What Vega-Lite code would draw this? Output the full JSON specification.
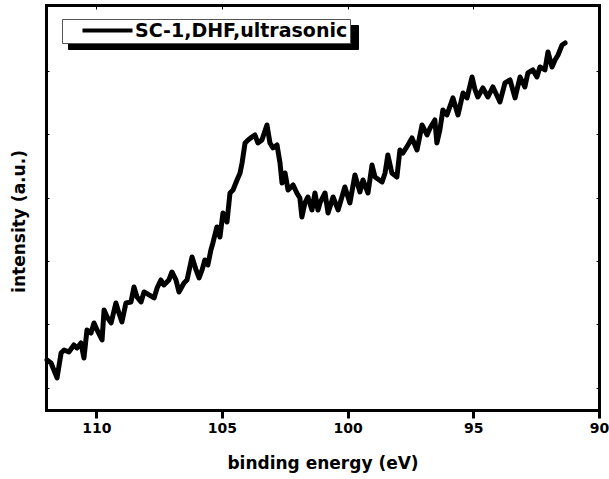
{
  "$schema": "https://vega.github.io/schema/vega-lite/v6.json",
  "width": 553,
  "height": 405,
  "autosize": {"type": "none"},
  "padding": {"left": 46, "top": 5, "right": 10, "bottom": 69},
  "background": "white",
  "config": {"font": "DejaVu Sans", "view": {"stroke": null}},
  "data": {"values": [
    {"e":111.96,"i":1441},{"e":111.80,"i":1394},{"e":111.56,"i":1158},{"e":111.40,"i":1551},{"e":111.28,"i":1599},
    {"e":111.09,"i":1567},{"e":110.89,"i":1677},{"e":110.77,"i":1630},{"e":110.61,"i":1709},{"e":110.49,"i":1473},
    {"e":110.37,"i":1914},{"e":110.21,"i":1866},{"e":110.09,"i":2024},{"e":109.97,"i":1914},{"e":109.77,"i":1756},
    {"e":109.69,"i":2229},{"e":109.57,"i":2118},{"e":109.41,"i":2024},{"e":109.22,"i":2339},{"e":109.10,"i":2181},
    {"e":108.98,"i":2040},{"e":108.82,"i":2339},{"e":108.62,"i":2355},{"e":108.50,"i":2591},{"e":108.38,"i":2433},
    {"e":108.22,"i":2355},{"e":108.10,"i":2512},{"e":107.90,"i":2465},{"e":107.70,"i":2418},{"e":107.58,"i":2575},
    {"e":107.43,"i":2701},{"e":107.31,"i":2622},{"e":107.11,"i":2701},{"e":106.99,"i":2827},{"e":106.83,"i":2701},
    {"e":106.71,"i":2512},{"e":106.51,"i":2654},{"e":106.39,"i":2701},{"e":106.19,"i":3063},{"e":106.03,"i":2859},
    {"e":105.91,"i":2733},{"e":105.79,"i":2859},{"e":105.68,"i":3016},{"e":105.56,"i":2937},{"e":105.44,"i":3174},
    {"e":105.36,"i":3284},{"e":105.20,"i":3536},{"e":105.08,"i":3378},{"e":104.96,"i":3756},{"e":104.80,"i":3615},
    {"e":104.68,"i":4071},{"e":104.56,"i":4119},{"e":104.40,"i":4276},{"e":104.28,"i":4386},{"e":104.20,"i":4544},
    {"e":104.08,"i":4859},{"e":103.96,"i":4906},{"e":103.81,"i":4953},{"e":103.69,"i":4985},{"e":103.57,"i":4859},
    {"e":103.41,"i":4906},{"e":103.21,"i":5142},{"e":103.09,"i":4859},{"e":102.97,"i":4780},{"e":102.81,"i":4827},
    {"e":102.69,"i":4544},{"e":102.61,"i":4229},{"e":102.49,"i":4386},{"e":102.37,"i":4119},{"e":102.17,"i":4197},
    {"e":102.02,"i":4071},{"e":101.90,"i":3993},{"e":101.82,"i":3693},{"e":101.70,"i":3914},{"e":101.58,"i":4008},
    {"e":101.42,"i":3804},{"e":101.30,"i":4071},{"e":101.18,"i":3804},{"e":101.10,"i":3914},{"e":100.90,"i":4071},
    {"e":100.78,"i":3756},{"e":100.58,"i":4008},{"e":100.38,"i":3804},{"e":100.11,"i":4166},{"e":99.91,"i":3914},
    {"e":99.71,"i":4355},{"e":99.51,"i":4087},{"e":99.39,"i":4276},{"e":99.19,"i":4071},{"e":99.03,"i":4512},
    {"e":98.91,"i":4323},{"e":98.63,"i":4245},{"e":98.51,"i":4386},{"e":98.40,"i":4670},{"e":98.24,"i":4386},
    {"e":98.04,"i":4323},{"e":97.92,"i":4749},{"e":97.80,"i":4701},{"e":97.60,"i":4827},{"e":97.44,"i":4938},
    {"e":97.24,"i":4749},{"e":97.04,"i":5142},{"e":96.84,"i":4985},{"e":96.72,"i":5095},{"e":96.53,"i":5221},
    {"e":96.45,"i":4859},{"e":96.33,"i":5064},{"e":96.21,"i":5379},{"e":96.05,"i":5300},{"e":95.81,"i":5568},
    {"e":95.61,"i":5300},{"e":95.41,"i":5646},{"e":95.25,"i":5568},{"e":95.05,"i":5898},{"e":94.93,"i":5694},
    {"e":94.82,"i":5583},{"e":94.62,"i":5725},{"e":94.42,"i":5583},{"e":94.22,"i":5741},{"e":93.94,"i":5505},
    {"e":93.74,"i":5804},{"e":93.54,"i":5851},{"e":93.34,"i":5568},{"e":93.14,"i":5898},{"e":92.95,"i":5741},
    {"e":92.83,"i":5961},{"e":92.63,"i":6009},{"e":92.47,"i":5898},{"e":92.35,"i":6056},{"e":92.15,"i":6009},
    {"e":92.03,"i":6292},{"e":91.87,"i":6056},{"e":91.75,"i":6166},{"e":91.63,"i":6245},{"e":91.47,"i":6402},
    {"e":91.35,"i":6434}
  ]},
  "transform": [
    {"calculate": "'SC-1,DHF,ultrasonic'", "as": "series"},
    {"calculate": "'SC-1,DHF,ultrasonic'", "as": "shadow"}
  ],
  "layer": [
    {
      "mark": {"type": "line", "strokeWidth": 5, "strokeJoin": "round", "strokeCap": "round"},
      "encoding": {
        "x": {"field": "e", "type": "quantitative",
          "scale": {"domain": [90, 112], "reverse": true, "zero": false, "nice": false},
          "axis": {"orient": "bottom", "values": [110, 105, 100, 95, 90], "grid": false,
            "domainColor": "black", "domainWidth": 3, "domainCap": "square",
            "tickColor": "black", "tickWidth": 3, "tickSize": 8,
            "labelFont": "DejaVu Sans", "labelFontWeight": "bold", "labelFontSize": 14, "labelColor": "black",
            "labelPadding": 3, "labelFlush": false,
            "title": "binding energy (eV)", "titleFont": "DejaVu Sans", "titleFontWeight": "bold",
            "titleFontSize": 17, "titleColor": "black", "titlePadding": 20}},
        "y": {"field": "i", "type": "quantitative",
          "scale": {"domain": [653, 7032], "zero": false, "nice": false},
          "axis": {"orient": "left", "values": [1000, 2000, 3000, 4000, 5000, 6000], "grid": false,
            "domainColor": "black", "domainWidth": 3, "domainCap": "square",
            "tickColor": "black", "tickWidth": 1, "tickSize": -3, "labels": false,
            "title": "intensity (a.u.)", "titleFont": "DejaVu Sans", "titleFontWeight": "bold",
            "titleFontSize": 17, "titleColor": "black", "titleX": -27, "titleY": 216, "titleBaseline": "middle"}},
        "color": {"field": "series", "type": "nominal",
          "scale": {"range": ["black"]},
          "legend": {"orient": "none", "legendX": 16, "legendY": 14, "title": null, "zindex": 2,
            "fillColor": "white", "strokeColor": "#555", "padding": 2,
            "symbolType": "M-5,0H5", "symbolSize": 100, "symbolStrokeWidth": 4, "symbolOffset": 34,
            "labelFont": "DejaVu Sans", "labelFontWeight": "bold", "labelFontSize": 19, "labelColor": "black",
            "labelOffset": 18, "labelLimit": 400}}
      }
    },
    {
      "mark": {"type": "line", "strokeOpacity": 0},
      "encoding": {
        "x": {"field": "e", "type": "quantitative",
          "axis": {"orient": "top", "values": [110, 105, 100, 95, 90], "grid": false,
            "domainColor": "black", "domainWidth": 3, "domainCap": "square",
            "tickColor": "black", "tickWidth": 1, "tickSize": -4, "labels": false, "title": null}},
        "y": {"field": "i", "type": "quantitative",
          "axis": {"orient": "right", "values": [1000, 2000, 3000, 4000, 5000, 6000], "grid": false,
            "domainColor": "black", "domainWidth": 3, "domainCap": "square",
            "tickColor": "black", "tickWidth": 1, "tickSize": -3, "labels": false, "title": null}},
        "strokeDash": {"field": "shadow", "type": "nominal",
          "scale": {"range": [[1, 0]]},
          "legend": {"orient": "none", "legendX": 22, "legendY": 20, "title": null, "zindex": 1,
            "fillColor": "black", "strokeColor": "black", "padding": 2,
            "symbolType": "M-5,0H5", "symbolSize": 100, "symbolStrokeWidth": 4, "symbolOffset": 34,
            "symbolStrokeColor": "black", "symbolOpacity": 0,
            "labelFont": "DejaVu Sans", "labelFontWeight": "bold", "labelFontSize": 19, "labelColor": "black",
            "labelExpr": "''", "labelOffset": 233, "labelLimit": 400}}
      }
    }
  ],
  "resolve": {"axis": {"x": "independent", "y": "independent"}}
}
